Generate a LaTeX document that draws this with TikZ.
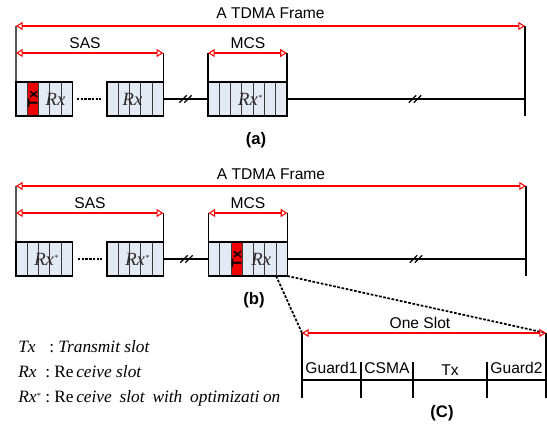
\documentclass[tikz,border=0pt]{standalone}
\usepackage{fontspec}
\setmainfont{Liberation Sans}
\newfontfamily\timesfont{Liberation Serif}
\usetikzlibrary{arrows.meta}

\definecolor{cellfill}{HTML}{E4EAF4}
\definecolor{cellline}{HTML}{3A3A3A}
\definecolor{txred}{HTML}{F00000}
\definecolor{rxgray}{HTML}{2A2A2A}

\tikzset{
  cell/.style={draw=cellline, fill=cellfill, line width=0.75pt,
    minimum width=8.44pt, minimum height=25.5pt, inner sep=0pt, outer sep=0pt},
  txcell/.style={cell, fill=txred},
  groupedge/.style={draw=black, line width=1pt},
  timeline/.style={draw=black, line width=1pt},
  span/.style={draw=red, line width=0.8pt,
    {Triangle[open,length=5pt,width=6pt]}-{Triangle[open,length=5pt,width=6pt]}},
  lbl/.style={font=\fontsize{11.7}{13}\selectfont, inner sep=0pt},
  panel/.style={font=\fontsize{12.5}{14}\selectfont\bfseries, inner sep=0pt},
  slotname/.style={font=\timesfont\itshape\fontsize{14}{15}\selectfont, text=rxgray, inner sep=0pt},
  txname/.style={font=\fontsize{10.5}{11}\selectfont\bfseries, rotate=90, inner sep=0pt},
  dotsline/.style={draw=black, line width=1.4pt, dash pattern=on 1.8pt off 1pt},
  zoomline/.style={draw=black, line width=1.3pt, dash pattern=on 2pt off 1.2pt},
  legend/.style={font=\timesfont\fontsize{13}{15}\selectfont, anchor=base west, inner sep=0pt},
}

% a row of slot cells: prefix, left x, centre y, number of cells, index of the red Tx cell (0 = none)
\newcommand\slotgroup[5]{%
  \foreach \i in {1,...,#4}{%
    \ifnum\i=#5\relax\def\cellstyle{txcell}\else\def\cellstyle{cell}\fi
    \node[\cellstyle] (#1-\i) at ({#2+(\i-0.5)*11.27},#3) {};
  }%
  \draw[groupedge] (#1-1.north west) rectangle (#1-#4.south east);
}

% break mark "//" on a time line
\newcommand\breakmark[2]{%
  \draw[black, line width=0.9pt] ({#1-2.5-3.7},{#2+3.7}) -- ({#1-2.5+3.7},{#2-3.7});
  \draw[black, line width=0.9pt] ({#1+2.5-3.7},{#2+3.7}) -- ({#1+2.5+3.7},{#2-3.7});
}

% slot name with a small star
\newcommand\rxstar{Rx\kern0.1pt{\fontsize{6}{6}\selectfont\raisebox{1.3ex}{*}}}

\begin{document}
\begin{tikzpicture}[x=0.75pt, y=-0.75pt]
\useasboundingbox (0,0) rectangle (547,427);

% ================= (a) =================
\slotgroup{aA}{16}{99}{5}{2}
\slotgroup{aB}{107}{99}{5}{0}
\slotgroup{aM}{208}{99}{7}{0}

\node[txname] (aTx) at (aA-2) {Tx};
\node[slotname] (aRx1) at (aA-4) {Rx};
\node[slotname, xshift=-2pt] (aRx2) at (aB-3) {Rx};
\node[slotname, xshift=2pt] (aRx3) at (aM-4) {\rxstar};

\coordinate (aFL) at (16,26);
\coordinate (aFR) at (525,26);
\coordinate (aEnd) at (525,116);
\coordinate (aSL) at (16,53);
\coordinate (aSR) at (aB-5.north east |- 0,53);
\coordinate (aML) at (aM-1.north west |- 0,53);
\coordinate (aMR) at (aM-7.north east |- 0,53);
\coordinate (aLine) at (525,99);
\coordinate (aDotL) at (77,99);
\coordinate (aDotR) at (101,99);

% frame boundaries and time line
\draw[timeline] (aFL) -- (aA-1.north west);
\draw[timeline] (aFR) -- (aEnd);
\draw[timeline] (aSR) -- (aB-5.north east);
\draw[timeline] (aML) -- (aM-1.north west);
\draw[timeline] (aMR) -- (aM-7.north east);
\draw[timeline] (aB-5.east) -- (aM-1.west);
\draw[timeline] (aM-7.east) -- (aLine);
\draw[dotsline] (aDotL) -- (aDotR);
\breakmark{185.5}{99}
\breakmark{415}{99}

\draw[span] (aFL) -- (aFR);
\draw[span] (aSL) -- (aSR);
\draw[span] (aML) -- (aMR);
\node[lbl] (aFrame) at (270.5,13) {A TDMA Frame};
\node[lbl] (aSAS) at (85,43) {SAS};
\node[lbl] (aMCS) at (248,43) {MCS};
\node[panel] (aCap) at (256,140) {(a)};

% ================= (b) =================
\slotgroup{bA}{16}{259}{5}{0}
\slotgroup{bB}{107}{259}{5}{0}
\slotgroup{bM}{208.5}{259}{7}{3}

\node[slotname, xshift=1.5pt] (bRx1) at (bA-3) {\rxstar};
\node[slotname, xshift=1.5pt] (bRx2) at (bB-3) {\rxstar};
\node[txname] (bTx) at (bM-3) {Tx};
\node[slotname, xshift=1.5pt] (bRx3) at (bM-5) {Rx};

\coordinate (bFL) at (16,186);
\coordinate (bFR) at (526,186);
\coordinate (bEnd) at (526,276);
\coordinate (bSL) at (16,213);
\coordinate (bSR) at (bB-5.north east |- 0,213);
\coordinate (bML) at (bM-1.north west |- 0,213);
\coordinate (bMR) at (bM-7.north east |- 0,213);
\coordinate (bLine) at (526,259);
\coordinate (bDotL) at (78,259);
\coordinate (bDotR) at (102,259);

\draw[timeline] (bFL) -- (bA-1.north west);
\draw[timeline] (bFR) -- (bEnd);
\draw[timeline] (bSR) -- (bB-5.north east);
\draw[timeline] (bML) -- (bM-1.north west);
\draw[timeline] (bMR) -- (bM-7.north east);
\draw[timeline] (bB-5.east) -- (bM-1.west);
\draw[timeline] (bM-7.east) -- (bLine);
\draw[dotsline] (bDotL) -- (bDotR);
\breakmark{186.5}{259}
\breakmark{416}{259}

\draw[span] (bFL) -- (bFR);
\draw[span] (bSL) -- (bSR);
\draw[span] (bML) -- (bMR);
\node[lbl] (bFrame) at (271,174) {A TDMA Frame};
\node[lbl] (bSAS) at (90,203) {SAS};
\node[lbl] (bMCS) at (248,203) {MCS};
\node[panel] (bCap) at (254,300) {(b)};

% ================= (C): one slot in detail =================
\coordinate (cL) at (302,333);
\coordinate (cR) at (546,333);
\coordinate (cLb) at (302,398);
\coordinate (cRb) at (546,398);
\coordinate (cHL) at (302,380);
\coordinate (cHR) at (546,380);
\coordinate (cD1t) at (361,362);
\coordinate (cD1b) at (361,398);
\coordinate (cD2t) at (413,362);
\coordinate (cD2b) at (413,398);
\coordinate (cD3t) at (487,362);
\coordinate (cD3b) at (487,398);

\draw[zoomline] (bM-7.south west) -- (cL);
\draw[zoomline] (bM-7.south east) -- (cR);

\draw[timeline] (cL) -- (cLb);
\draw[timeline] (cR) -- (cRb);
\draw[timeline] (cHL) -- (cHR);
\draw[timeline] (cD1t) -- (cD1b);
\draw[timeline] (cD2t) -- (cD2b);
\draw[timeline] (cD3t) -- (cD3b);
\draw[span] (cL) -- (cR);

\node[lbl] (cOne) at (420,323) {One Slot};
\node[lbl] (cG1) at (331.5,368) {Guard1};
\node[lbl] (cCS) at (387,368) {CSMA};
\node[lbl] (cTx) at (450,370.5) {Tx};
\node[lbl] (cG2) at (516.5,368) {Guard2};
\node[panel] (cCap) at (442,413) {(C)};

% ================= legend =================
\node[legend] (lgTx) at (18,353)
  {\makebox[23.25pt][l]{\itshape Tx}:\ \textit{Transmit slot}};
\node[legend] (lgRx) at (18,378)
  {\makebox[20.25pt][l]{\itshape Rx}:\ Re\hspace{0.15em}\textit{ceive slot}};
\node[legend] (lgRs) at (18,403)
  {\makebox[20.25pt][l]{\itshape\rxstar}:\ Re\hspace{0.15em}\textit{ceive\hspace{0.45em}slot\hspace{0.45em}with\hspace{0.45em}optimizati\hspace{0.2em}on}};

\end{tikzpicture}
\end{document}
